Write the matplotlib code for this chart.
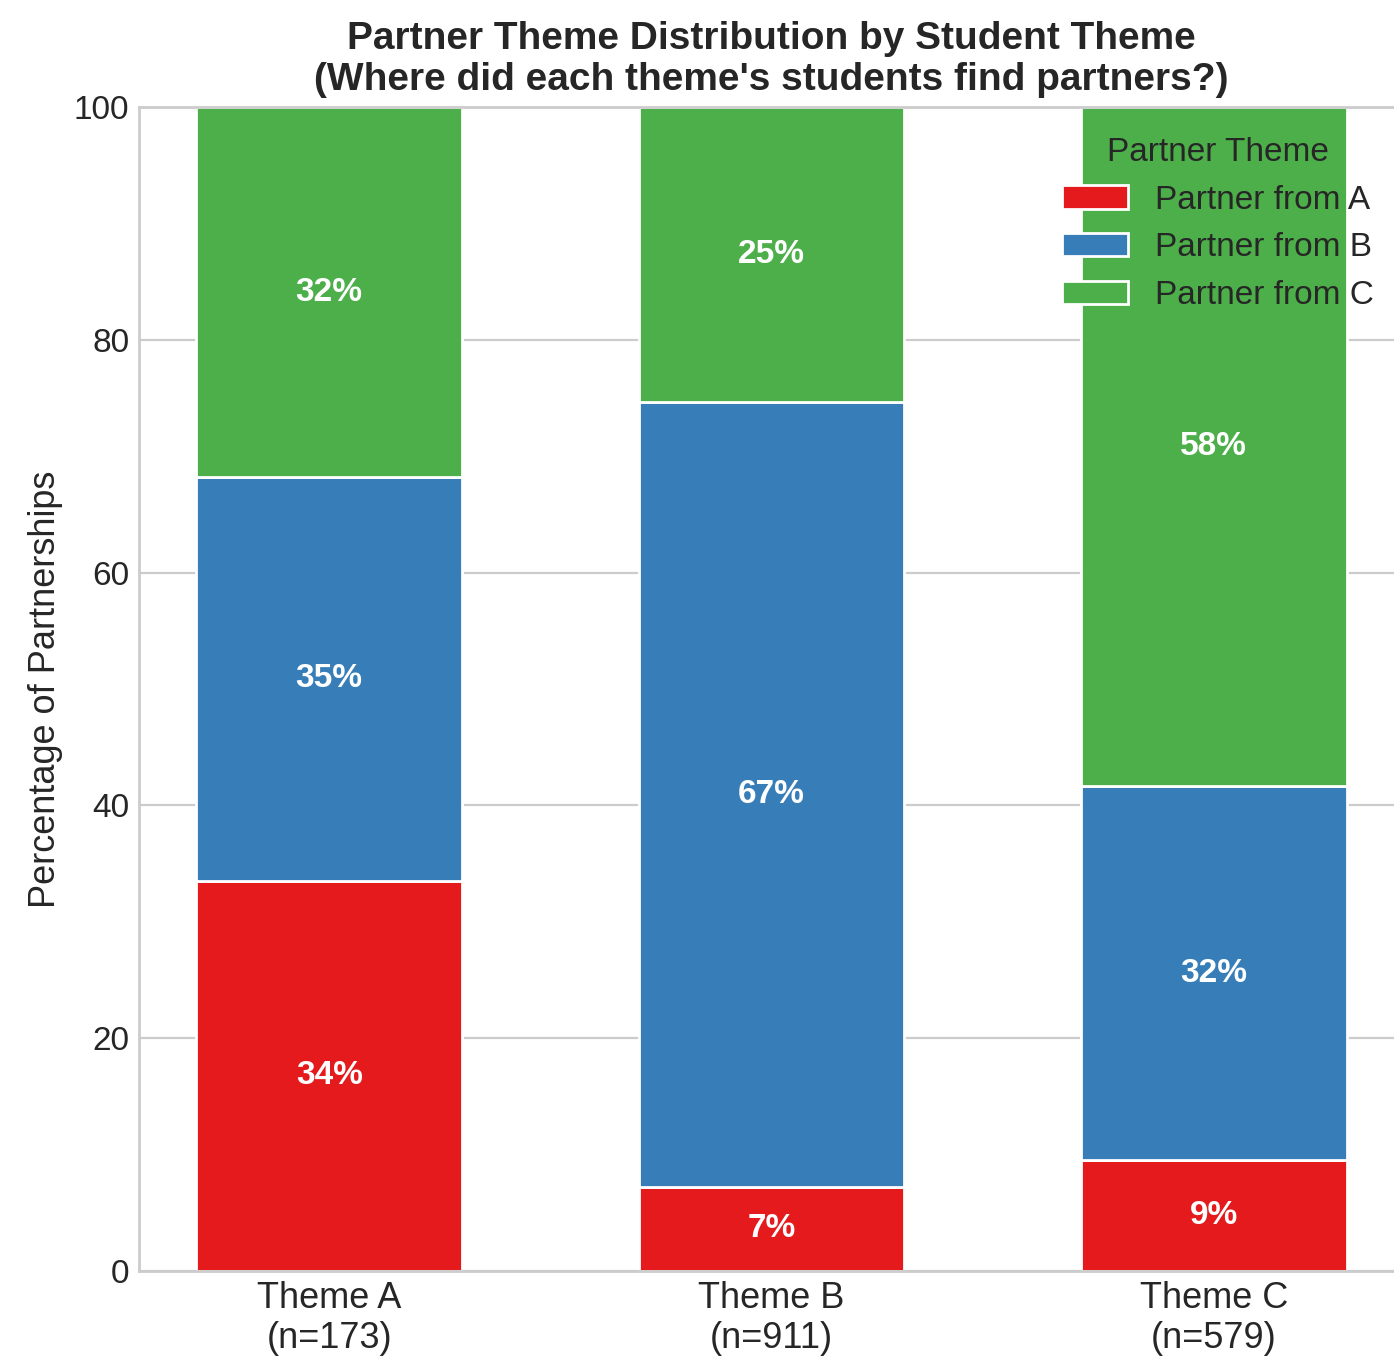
import matplotlib
matplotlib.use("Agg")
import matplotlib.pyplot as plt
import numpy as np

# partnership counts per student theme, split by partner theme
student_themes = ["Theme A", "Theme B", "Theme C"]
partner_labels = ["Partner from A", "Partner from B", "Partner from C"]
from_a = [58, 66, 55]
from_b = [60, 614, 186]
from_c = [55, 231, 338]
colors = ["#e41a1c", "#377eb8", "#4daf4a"]

plt.style.use("seaborn-v0_8-whitegrid")
plt.rcParams["font.family"] = ["Liberation Sans", "DejaVu Sans"]

counts = np.array([from_a, from_b, from_c], dtype=float)
totals = counts.sum(axis=0)
shares = counts / totals * 100

fig = plt.figure(figsize=(6.97, 6.825), dpi=200)
ax = fig.add_axes([0.0997, 0.0689, 0.9075, 0.8527])

x = np.arange(len(student_themes))
bottom = np.zeros(len(student_themes))
for share, color, label in zip(shares, colors, partner_labels):
    bars = ax.bar(x, share, width=0.6, bottom=bottom, color=color,
                  edgecolor="white", linewidth=1.0, label=label)
    for rect, v, b in zip(bars, share, bottom):
        ax.text(rect.get_x() + rect.get_width() / 2, b + v / 2, f"{v:.0f}%",
                ha="center", va="center", color="white",
                fontsize=12, fontweight="bold")
    bottom += share

ax.set_ylim(0, 100)
ax.set_xticks(x)
ax.set_xticklabels([f"{t}\n(n={int(n)})" for t, n in zip(student_themes, totals)],
                   fontsize=13)
ax.tick_params(axis="y", labelsize=12)
ax.xaxis.grid(False)
ax.set_ylabel("Percentage of Partnerships", fontsize=13)
ax.set_title("Partner Theme Distribution by Student Theme\n"
             "(Where did each theme's students find partners?)",
             fontsize=14, fontweight="bold")
ax.legend(title="Partner Theme", loc="upper right", fontsize=12,
          title_fontsize=12, frameon=False)

fig.savefig("out.png", dpi=200)
